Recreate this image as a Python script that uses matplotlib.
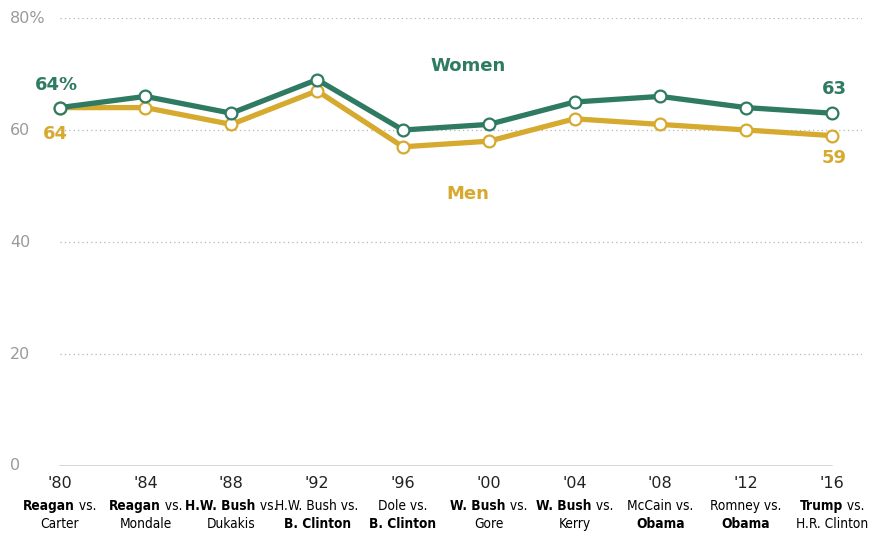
import matplotlib.pyplot as plt
from matplotlib.offsetbox import TextArea, HPacker, VPacker, AnnotationBbox

# share of voters who turned out, by gender
years = ["'80", "'84", "'88", "'92", "'96", "'00", "'04", "'08", "'12", "'16"]
women = [64, 66, 63, 69, 60, 61, 65, 66, 64, 63]
men = [64, 64, 61, 67, 57, 58, 62, 61, 60, 59]

# matchups under each year; True marks the winner (bold)
matchups = [
    [[("Reagan", True), (" vs.", False)], [("Carter", False)]],
    [[("Reagan", True), (" vs.", False)], [("Mondale", False)]],
    [[("H.W. Bush", True), (" vs.", False)], [("Dukakis", False)]],
    [[("H.W. Bush vs.", False)], [("B. Clinton", True)]],
    [[("Dole vs.", False)], [("B. Clinton", True)]],
    [[("W. Bush", True), (" vs.", False)], [("Gore", False)]],
    [[("W. Bush", True), (" vs.", False)], [("Kerry", False)]],
    [[("McCain vs.", False)], [("Obama", True)]],
    [[("Romney vs.", False)], [("Obama", True)]],
    [[("Trump", True), (" vs.", False)], [("H.R. Clinton", False)]],
]

green = "#2E7A62"
gold = "#D6AA2E"
grey = "#9a9a9a"

fig = plt.figure(figsize=(8.73, 5.36), dpi=100)
ax = fig.add_axes([0.0664, 0.1306, 0.9210, 0.8358])

x = list(range(len(years)))

for g in [20, 40, 60, 80]:
    ax.axhline(g, xmin=0.003, color="#b5b5b5", lw=0.9, ls=(0, (1, 2.5)), zorder=0)
ax.plot([0, 9], [0, 0], color="#d0d0d0", lw=1.2, zorder=0)

ax.plot(x, men, color=gold, lw=3.8, marker="o", ms=8.5, mfc="white",
        mec=gold, mew=1.6, clip_on=False, zorder=3)
ax.plot(x, women, color=green, lw=3.8, marker="o", ms=8.5, mfc="white",
        mec=green, mew=1.6, clip_on=False, zorder=4)

ax.set_xlim(-0.02, 9.35)
ax.set_ylim(0, 80)
ax.axis("off")

# y tick labels
for v in [0, 20, 40, 60, 80]:
    lab = "80%" if v == 80 else str(v)
    ax.annotate(lab, xy=(0, v), xycoords=("figure fraction", "data"),
                xytext=(10, 0), textcoords="offset pixels",
                ha="left", va="center", color=grey, fontsize=11.5)

# series labels
bold = dict(fontsize=13, fontweight="bold")
ax.annotate("64%", xy=(0, women[0]), xytext=(-3, 23), textcoords="offset pixels",
            ha="center", va="center", color=green, **bold)
ax.annotate("64", xy=(0, men[0]), xytext=(-4, -26), textcoords="offset pixels",
            ha="center", va="center", color=gold, **bold)
ax.annotate("63", xy=(9, women[-1]), xytext=(2, 24), textcoords="offset pixels",
            ha="center", va="center", color=green, **bold)
ax.annotate("59", xy=(9, men[-1]), xytext=(2, -22), textcoords="offset pixels",
            ha="center", va="center", color=gold, **bold)
ax.text(4.76, 71.5, "Women", ha="center", va="center", color=green, **bold)
ax.text(4.76, 48.5, "Men", ha="center", va="center", color=gold, **bold)

# x tick labels: year plus the matchup with mixed weights
cond = dict(family=["DejaVu Sans Condensed", "DejaVu Sans"], fontstretch="condensed")
for i, yr in enumerate(years):
    year_box = TextArea(yr, textprops=dict(fontsize=11.5, color="#222222"))
    lines = []
    for parts in matchups[i]:
        areas = [TextArea(t, textprops=dict(fontsize=9.8, color="black",
                                            fontweight="bold" if b else "normal",
                                            **cond))
                 for t, b in parts]
        lines.append(HPacker(children=areas, pad=0, sep=0, align="baseline"))
    names = VPacker(children=lines, pad=0, sep=3, align="center")
    box = VPacker(children=[year_box, names], pad=0, sep=6, align="center")
    ab = AnnotationBbox(box, (i, 0), xybox=(0, -10), boxcoords="offset pixels",
                        box_alignment=(0.5, 1), frameon=False, annotation_clip=False)
    ax.add_artist(ab)

plt.savefig("out.png", dpi=100)
